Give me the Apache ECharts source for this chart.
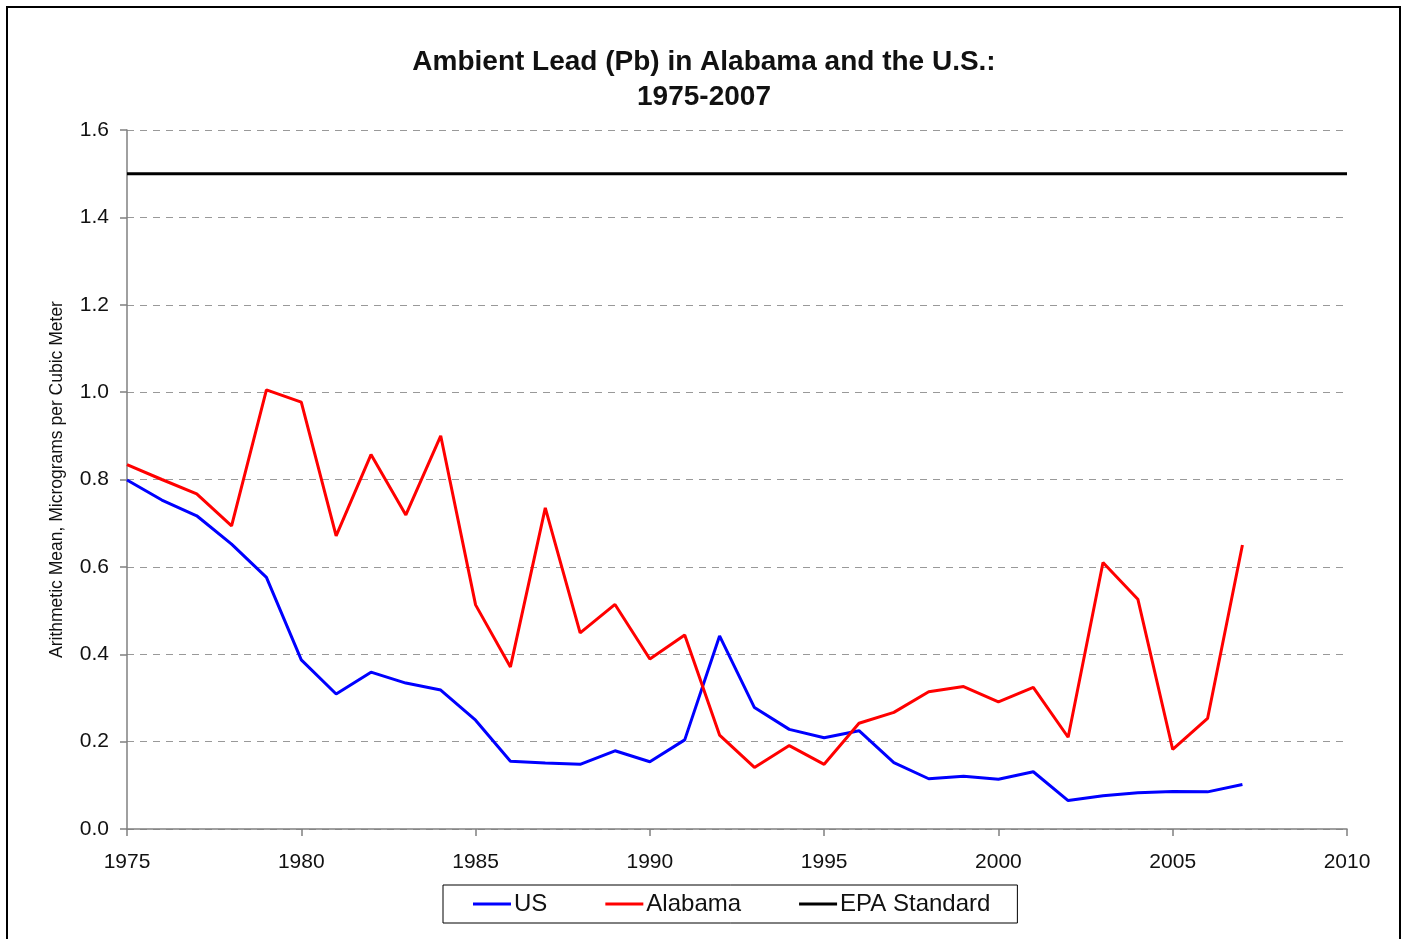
<!DOCTYPE html>
<html>
<head>
<meta charset="utf-8">
<script src="https://cdn.jsdelivr.net/npm/echarts@6/dist/echarts.min.js"></script>
<style>
  html, body { margin: 0; padding: 0; background: #fff; }
  #chart { width: 1404px; height: 939px; }
</style>
</head>
<body>
<div id="chart"></div>
<script>
// years 1975..2007
const years = [1975, 1976, 1977, 1978, 1979, 1980, 1981, 1982, 1983, 1984,
  1985, 1986, 1987, 1988, 1989, 1990, 1991, 1992, 1993, 1994,
  1995, 1996, 1997, 1998, 1999, 2000, 2001, 2002, 2003, 2004,
  2005, 2006, 2007]

const usValues = [0.799, 0.753, 0.717, 0.652, 0.576, 0.387, 0.309, 0.359, 0.334, 0.318,
  0.249, 0.155, 0.151, 0.148, 0.179, 0.154, 0.204, 0.442, 0.278, 0.228,
  0.209, 0.225, 0.152, 0.115, 0.121, 0.114, 0.131, 0.065, 0.076, 0.083,
  0.086, 0.085, 0.102]

const alabamaValues = [0.834, 0.800, 0.767, 0.694, 1.005, 0.977, 0.671, 0.857, 0.719, 0.900,
  0.513, 0.371, 0.735, 0.449, 0.514, 0.389, 0.444, 0.215, 0.141, 0.191,
  0.148, 0.242, 0.267, 0.314, 0.326, 0.291, 0.324, 0.210, 0.610, 0.526,
  0.182, 0.253, 0.650]

// EPA standard spans the whole axis
const epaYears = [1975, 2010]
const epaValues = [1.5, 1.5]

const pairs = (xs, ys) => xs.map((x, i) => [x, ys[i]])

const font = 'Liberation Sans, Arial, sans-serif'
const chart = echarts.init(document.getElementById('chart'))

chart.setOption({
  animation: false,
  textStyle: { fontFamily: font },
  graphic: [{
    type: 'rect',
    shape: { x: 7, y: 7, width: 1393, height: 940 },
    style: { fill: 'none', stroke: '#000', lineWidth: 2 },
    silent: true
  }],
  title: {
    text: 'Ambient Lead (Pb) in Alabama and the U.S.:\n1975-2007',
    left: 699,
    top: 40,
    textAlign: 'center',
    textStyle: { fontFamily: font, fontSize: 28, fontWeight: 'bold', color: '#111', lineHeight: 35 }
  },
  legend: {
    data: ['US', 'Alabama', 'EPA Standard'],
    left: 443,
    top: 885,
    padding: [7, 27, 7, 30],
    itemGap: 58,
    itemWidth: 38,
    itemHeight: 3,
    icon: 'rect',
    borderColor: '#000',
    borderWidth: 1,
    borderRadius: 0,
    textStyle: { fontFamily: font, fontSize: 24, color: '#111', padding: [0, 0, 0, -2] }
  },
  grid: { left: 127, right: 57, top: 130, bottom: 110, containLabel: false },
  xAxis: {
    type: 'value',
    min: 1975,
    max: 2010,
    interval: 5,
    axisLine: { lineStyle: { color: '#808080', width: 1.5 } },
    axisTick: { show: true, length: 7, lineStyle: { color: '#808080', width: 1.5 } },
    axisLabel: { fontSize: 21, color: '#111', margin: 23, fontFamily: font, formatter: v => String(v) },
    splitLine: { show: false }
  },
  yAxis: {
    type: 'value',
    min: 0,
    max: 1.6,
    interval: 0.2,
    name: 'Arithmetic Mean, Micrograms per Cubic Meter',
    nameLocation: 'middle',
    nameGap: 61,
    nameTextStyle: { fontSize: 17.5, color: '#111', fontFamily: font },
    axisLine: { show: true, lineStyle: { color: '#808080', width: 1.5 } },
    axisTick: { show: true, length: 7, lineStyle: { color: '#808080', width: 1.5 } },
    axisLabel: { fontSize: 21, color: '#111', margin: 18, fontFamily: font, formatter: v => v.toFixed(1) },
    splitLine: { show: true, lineStyle: { color: '#999', type: [7, 6], width: 1 } }
  },
  series: [
    {
      name: 'US', type: 'line', data: pairs(years, usValues),
      showSymbol: false, lineStyle: { color: '#0000ff', width: 3 }, itemStyle: { color: '#0000ff' }
    },
    {
      name: 'Alabama', type: 'line', data: pairs(years, alabamaValues),
      showSymbol: false, lineStyle: { color: '#ff0000', width: 3 }, itemStyle: { color: '#ff0000' }
    },
    {
      name: 'EPA Standard', type: 'line', data: pairs(epaYears, epaValues),
      showSymbol: false, lineStyle: { color: '#000', width: 3 }, itemStyle: { color: '#000' }
    }
  ]
})
</script>
</body>
</html>
